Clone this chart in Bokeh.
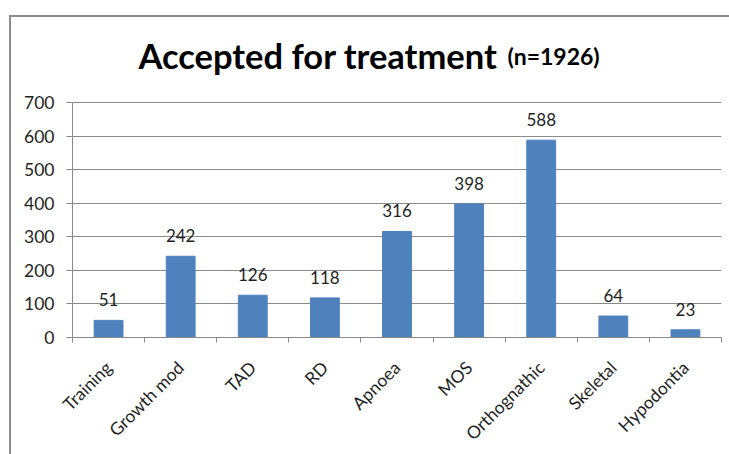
import numpy as np
from bokeh.plotting import figure
from bokeh.models import ColumnDataSource, Range1d, FixedTicker, LabelSet, Label
from bokeh.core.properties import value
from bokeh.embed import file_html
from bokeh.resources import INLINE

categories = ["Training", "Growth mod", "TAD", "RD", "Apnoea", "MOS",
              "Orthognathic", "Skeletal", "Hypodontia"]
counts = [51, 242, 126, 118, 316, 398, 588, 64, 23]
y_ticks = [0, 100, 200, 300, 400, 500, 600, 700]
title_main = "Accepted for treatment"
title_sub = "(n=1926)"

FONT = "Lato"
TXT = "#1f1f1f"
GRID = "#8a8a8a"
BORDER = "#8c8c8c"

n = len(categories)
xs = np.arange(n) + 0.5
src = ColumnDataSource(dict(x=xs, v=counts, lab=[str(c) for c in counts]))

p = figure(width=729, height=454, x_range=Range1d(0, n), y_range=Range1d(0, 1004.2),
           output_backend="svg", toolbar_location=None,
           min_border_left=72, min_border_right=8, min_border_top=0, min_border_bottom=114)
p.border_fill_alpha = 0
p.background_fill_alpha = 0
p.outline_line_color = None
# chart-area border drawn as host background (top and left edges visible in the crop)
p.styles = {"background": (f"linear-gradient({BORDER},{BORDER}) 9px 15px / 2px 100% no-repeat, "
                           f"linear-gradient({BORDER},{BORDER}) 9px 15px / 100% 2px no-repeat, "
                           "#ffffff")}

p.vbar(x="x", top="v", width=0.4, source=src, fill_color="#4F81BD",
       line_color="#4F81BD")

p.add_layout(LabelSet(x="x", y="v", text="lab", source=src, y_offset=14,
                      text_align="center", text_baseline="alphabetic",
                      text_font=value(FONT), text_font_size="17px", text_color=TXT))

# y axis
p.yaxis.ticker = FixedTicker(ticks=y_ticks)
p.yaxis.bounds = (0, 700)
p.yaxis.axis_line_color = GRID
p.yaxis.major_tick_line_color = GRID
p.yaxis.major_tick_out = 6
p.yaxis.major_tick_in = 0
p.yaxis.minor_tick_line_color = None
p.yaxis.major_label_text_font = FONT
p.yaxis.major_label_text_font_size = "17.5px"
p.yaxis.major_label_text_color = TXT
p.yaxis.major_label_standoff = 12

# x axis
p.xaxis.ticker = FixedTicker(ticks=list(xs), minor_ticks=list(range(n + 1)))
p.xaxis.major_label_overrides = {float(x): c for x, c in zip(xs, categories)}
p.xaxis.major_label_orientation = np.pi / 4
p.xaxis.axis_line_color = GRID
p.xaxis.major_tick_line_color = None
p.xaxis.minor_tick_line_color = GRID
p.xaxis.minor_tick_out = 5
p.xaxis.minor_tick_in = 0
p.xaxis.major_label_text_font = FONT
p.xaxis.major_label_text_font_size = "17.5px"
p.xaxis.major_label_text_color = TXT
p.xaxis.major_label_standoff = 21

p.xgrid.grid_line_color = None
p.ygrid.grid_line_color = GRID
p.ygrid.ticker = FixedTicker(ticks=y_ticks)

p.add_layout(Label(x=5.894, y=839, text=title_main, text_align="right",
                   text_baseline="alphabetic", text_font=FONT, text_font_style="bold",
                   text_font_size="34.5px", text_color="#000000"))
p.add_layout(Label(x=6.032, y=839, text=title_sub, text_align="left",
                   text_baseline="alphabetic", text_font=FONT, text_font_style="bold",
                   text_font_size="23px", text_color="#000000"))

open("out.html", "w").write(file_html(p, INLINE))
